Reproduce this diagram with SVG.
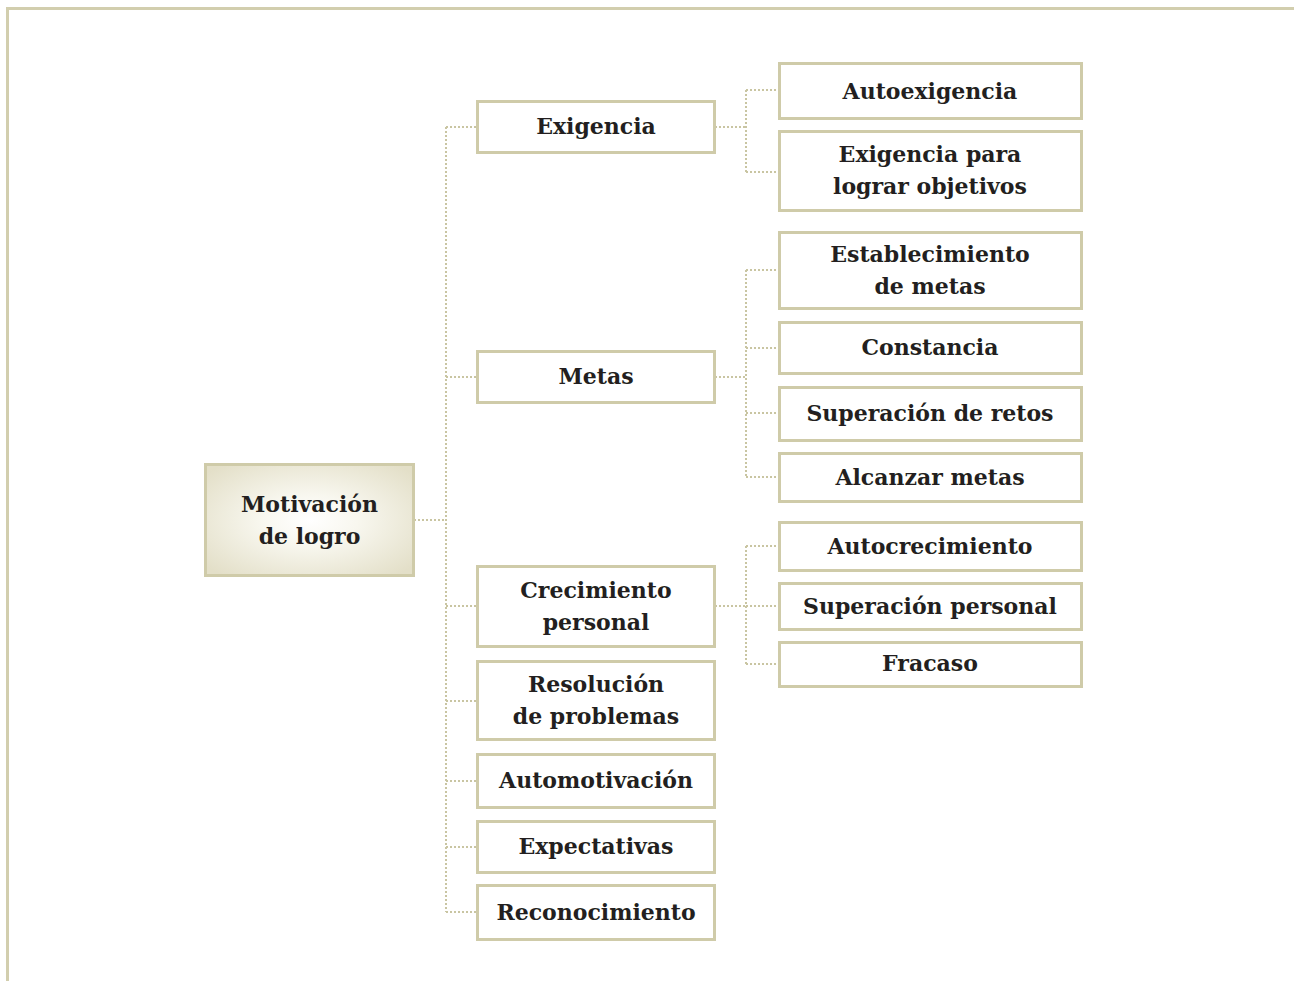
<svg xmlns="http://www.w3.org/2000/svg" width="1294" height="981" viewBox="0 0 1294 981">
<defs>
<radialGradient id="rg" cx="50%" cy="50%" r="65%">
<stop offset="0" stop-color="#FFFFFF"/>
<stop offset="0.35" stop-color="#F8F7EF"/>
<stop offset="1" stop-color="#E3DFC8"/>
</radialGradient>
<style>
.box{fill:#FFFFFF;stroke:#CFCBA9;stroke-width:3}
.root{fill:url(#rg);stroke:#CFCBA9;stroke-width:3}
.t{font-family:"DejaVu Serif","Liberation Serif",serif;font-weight:bold;font-size:22px;fill:#231F20;text-anchor:middle}
.c{fill:none;stroke:#C9C5A2;stroke-width:2;stroke-dasharray:2 2}
.frame{fill:none;stroke:#D2CEAE;stroke-width:3}
</style>
</defs>
<rect width="1294" height="981" fill="#FFFFFF"/>
<path class="frame" d="M7.5 981 V8.5 H1294"/>
<g id="connectors">
<path class="c" d="M414 520 H446 M446 127 V912 M446 127 H477 M446 377 H477 M446 606 H477 M446 701 H477 M446 781 H477 M446 847 H477 M446 912 H477"/>
<path class="c" d="M715 127 H746 M746 90 V172 M746 90 H779 M746 172 H779"/>
<path class="c" d="M715 377 H746 M746 270 V477 M746 270 H779 M746 348 H779 M746 413 H779 M746 477 H779"/>
<path class="c" d="M715 606 H746 M746 546 V664 M746 546 H779 M746 606 H779 M746 664 H779"/>
</g>
<g id="n-root"><rect class="root" x="205.5" y="464.5" width="208" height="111"/><text class="t" x="309.5" y="512">Motivación</text><text class="t" x="309.5" y="544">de logro</text></g>
<g id="n-exigencia"><rect class="box" x="477.5" y="101.5" width="237" height="51"/><text class="t" x="596" y="134">Exigencia</text></g>
<g id="n-metas"><rect class="box" x="477.5" y="351.5" width="237" height="51"/><text class="t" x="596" y="384">Metas</text></g>
<g id="n-crecimiento"><rect class="box" x="477.5" y="566.5" width="237" height="80"/><text class="t" x="596" y="598">Crecimiento</text><text class="t" x="596" y="630">personal</text></g>
<g id="n-resolucion"><rect class="box" x="477.5" y="661.5" width="237" height="78"/><text class="t" x="596" y="692">Resolución</text><text class="t" x="596" y="724">de problemas</text></g>
<g id="n-automotivacion"><rect class="box" x="477.5" y="754.5" width="237" height="53"/><text class="t" x="596" y="788">Automotivación</text></g>
<g id="n-expectativas"><rect class="box" x="477.5" y="821.5" width="237" height="51"/><text class="t" x="596" y="854">Expectativas</text></g>
<g id="n-reconocimiento"><rect class="box" x="477.5" y="885.5" width="237" height="54"/><text class="t" x="596" y="920">Reconocimiento</text></g>
<g id="n-autoexigencia"><rect class="box" x="779.5" y="63.5" width="302" height="55"/><text class="t" x="930" y="99">Autoexigencia</text></g>
<g id="n-exigencia-objetivos"><rect class="box" x="779.5" y="131.5" width="302" height="79"/><text class="t" x="930" y="162">Exigencia para</text><text class="t" x="930" y="194">lograr objetivos</text></g>
<g id="n-establecimiento"><rect class="box" x="779.5" y="232.5" width="302" height="76"/><text class="t" x="930" y="262">Establecimiento</text><text class="t" x="930" y="294">de metas</text></g>
<g id="n-constancia"><rect class="box" x="779.5" y="322.5" width="302" height="51"/><text class="t" x="930" y="355">Constancia</text></g>
<g id="n-superacion-retos"><rect class="box" x="779.5" y="387.5" width="302" height="53"/><text class="t" x="930" y="421">Superación de retos</text></g>
<g id="n-alcanzar"><rect class="box" x="779.5" y="453.5" width="302" height="48"/><text class="t" x="930" y="485">Alcanzar metas</text></g>
<g id="n-autocrecimiento"><rect class="box" x="779.5" y="522.5" width="302" height="48"/><text class="t" x="930" y="554">Autocrecimiento</text></g>
<g id="n-superacion-personal"><rect class="box" x="779.5" y="583.5" width="302" height="46"/><text class="t" x="930" y="614">Superación personal</text></g>
<g id="n-fracaso"><rect class="box" x="779.5" y="642.5" width="302" height="44"/><text class="t" x="930" y="671">Fracaso</text></g>
</svg>
